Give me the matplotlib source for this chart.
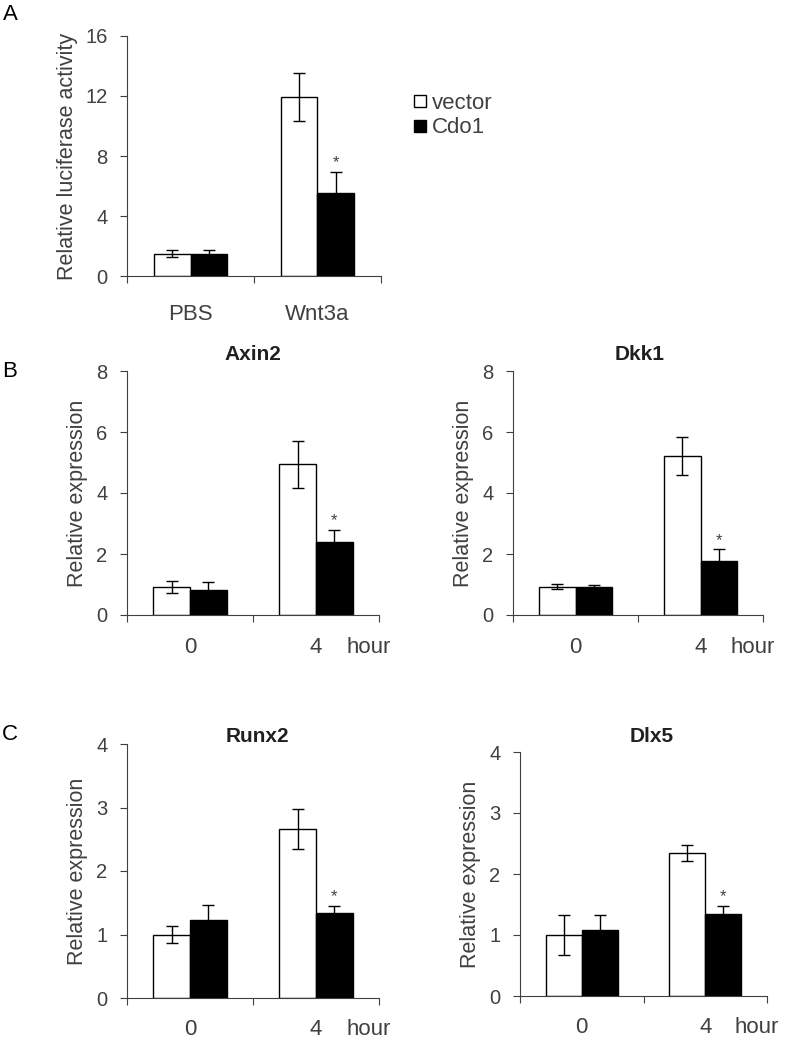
import matplotlib.pyplot as plt
from matplotlib.lines import Line2D

plt.rcParams['font.family'] = ['Liberation Sans', 'DejaVu Sans']

GREY = '#404040'

# Panel A data
a_groups = ['PBS', 'Wnt3a']
a_vector = [1.5, 11.9]
a_vector_err = [0.25, 1.6]
a_cdo1 = [1.45, 5.55]
a_cdo1_err = [0.3, 1.4]

# Panels B/C data (time points 0 and 4 hour)
hours = ['0', '4']
genes = ['Axin2', 'Dkk1', 'Runx2', 'Dlx5']
vector_vals = {'Axin2': [0.92, 4.94], 'Dkk1': [0.93, 5.2],
               'Runx2': [1.0, 2.66], 'Dlx5': [1.0, 2.34]}
vector_errs = {'Axin2': [0.2, 0.78], 'Dkk1': [0.09, 0.62],
               'Runx2': [0.13, 0.31], 'Dlx5': [0.32, 0.13]}
cdo1_vals = {'Axin2': [0.82, 2.38], 'Dkk1': [0.92, 1.78],
             'Runx2': [1.23, 1.34], 'Dlx5': [1.08, 1.34]}
cdo1_errs = {'Axin2': [0.27, 0.41], 'Dkk1': [0.08, 0.37],
             'Runx2': [0.24, 0.11], 'Dlx5': [0.25, 0.14]}
ylims = {'Axin2': (8, [0, 2, 4, 6, 8]), 'Dkk1': (8, [0, 2, 4, 6, 8]),
         'Runx2': (4, [0, 1, 2, 3, 4]), 'Dlx5': (4, [0, 1, 2, 3, 4])}
# significant: Cdo1 bar of second group
sig = [1]

W, H = 787, 1040
fig = plt.figure(figsize=(W / 100, H / 100), dpi=100)


def px_axes(left, top, right, bottom):
    return fig.add_axes([left / W, 1 - bottom / H, (right - left) / W, (bottom - top) / H])


def draw_bars(ax, labels, v, verr, c, cerr, ymax, yticks, xpad, hour=True):
    width = 0.29
    x = [0.5, 1.5]
    xv = [i - width / 2 for i in x]
    xc = [i + width / 2 for i in x]
    ek = dict(ecolor='black', elinewidth=1, capsize=4, capthick=1)
    ax.bar(xv, v, width, yerr=verr, color='white', edgecolor='black', linewidth=1, error_kw=ek, zorder=2)
    ax.bar(xc, c, width, yerr=cerr, color='black', edgecolor='black', linewidth=1, error_kw=ek, zorder=2)
    for i in sig:
        ax.annotate('*', (xc[i], c[i] + cerr[i]), xytext=(0, 1), textcoords='offset points',
                    ha='center', va='bottom', fontsize=12, color=GREY)
    ax.set_xlim(0, 2)
    ax.set_ylim(0, ymax)
    ax.set_yticks(yticks)
    ax.set_xticks([0, 1, 2])
    ax.set_xticklabels([])
    ax.set_xticks(x, minor=True)
    ax.set_xticklabels(labels, minor=True)
    ax.tick_params(axis='x', which='minor', length=0, pad=xpad, labelsize=16, labelcolor=GREY)
    ax.tick_params(axis='x', which='major', length=5, direction='out', color=GREY)
    ax.tick_params(axis='y', length=5, direction='out', pad=9, labelsize=14.5, labelcolor=GREY, color=GREY)
    for s in ['top', 'right']:
        ax.spines[s].set_visible(False)
    for s in ['left', 'bottom']:
        ax.spines[s].set_color(GREY)
    if hour:
        ax.annotate('hour', (1.74, 0), xycoords=ax.get_xaxis_transform(), xytext=(0, -xpad),
                    textcoords='offset points', fontsize=16, color=GREY, ha='left', va='top')


# Panel A
axA = px_axes(127, 36, 381, 276)
draw_bars(axA, a_groups, a_vector, a_vector_err, a_cdo1, a_cdo1_err, 16, [0, 4, 8, 12, 16], 20, hour=False)
axA.set_ylabel('Relative luciferase activity', fontsize=15.5, color=GREY, labelpad=5)

# Panels B and C
boxes = {'Axin2': (127, 371, 379, 615), 'Dkk1': (513, 371, 763, 615),
         'Runx2': (127, 744, 379, 998), 'Dlx5': (520, 752, 767, 996)}
titles = {'Axin2': (253, 355), 'Dkk1': (640, 354), 'Runx2': (257, 737), 'Dlx5': (652, 736)}
pads = {'Axin2': 16, 'Dkk1': 16, 'Runx2': 15, 'Dlx5': 15}
for g in genes:
    ax = px_axes(*boxes[g])
    ymax, yt = ylims[g]
    draw_bars(ax, hours, vector_vals[g], vector_errs[g], cdo1_vals[g], cdo1_errs[g], ymax, yt, pads[g])
    ax.set_ylabel('Relative expression', fontsize=15.5, color=GREY, labelpad=6)
    tx, ty = titles[g]
    fig.text(tx / W, 1 - ty / H, g, fontsize=15, fontweight='bold', color='#202020',
             ha='center', va='center')

# Legend
handles = [Line2D([], [], marker='s', linestyle='none', markersize=8, markerfacecolor='white',
                  markeredgecolor='black', markeredgewidth=1),
           Line2D([], [], marker='s', linestyle='none', markersize=8, markerfacecolor='black',
                  markeredgecolor='black')]
fig.legend(handles, ['vector', 'Cdo1'], loc='upper left', bbox_to_anchor=(402 / W, 1 - 82 / H),
           frameon=False, fontsize=16, handlelength=0.6, handletextpad=0.25, labelspacing=0.15,
           labelcolor=GREY, borderpad=0)

# Panel letters
for letter, (x, y) in {'A': (10, 15), 'B': (10, 371), 'C': (10, 735)}.items():
    fig.text(x / W, 1 - y / H, letter, fontsize=16, ha='center', va='center', color='black')

fig.savefig('out.png', dpi=100)
